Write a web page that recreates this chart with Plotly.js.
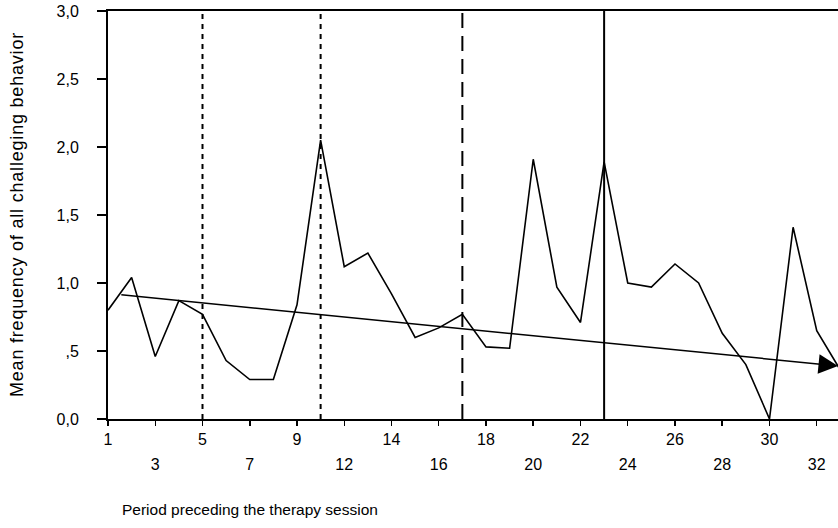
<!DOCTYPE html>
<html>
<head>
<meta charset="utf-8">
<script src="https://cdn.plot.ly/plotly-3.0.1.min.js"></script>
<style>
  html, body { margin: 0; padding: 0; background: #ffffff; }
  #chart { width: 838px; height: 528px; }
</style>
</head>
<body>
<div id="chart"></div>
<script>
// ---- data ----
const sessions = [1, 2, 3, 4, 5, 6, 7, 8, 9, 10, 12, 13, 14, 15, 16, 17, 18, 19, 20, 21, 22, 23, 24, 25, 26, 27, 28, 29, 30, 31, 32, 33];
const meanFrequency = [0.80, 1.04, 0.46, 0.87, 0.77, 0.43, 0.29, 0.29, 0.84, 2.05, 1.12, 1.22, 0.92, 0.60, 0.67, 0.77, 0.53, 0.52, 1.91, 0.97, 0.71, 1.89, 1.00, 0.97, 1.14, 1.00, 0.63, 0.40, 0.00, 1.41, 0.65, 0.36];
const phaseChangeSessions = [5, 10, 17, 23];
const phaseChangeDashes = ['5px,5px', '5px,5px', '15px,8px', 'solid'];
const trendPosition = [0.5, 30.9];   // in session-index units (start between sessions 1 and 2, end at right edge)
const trendValue = [0.914, 0.39];
const yTickValues = [0, 0.5, 1, 1.5, 2, 2.5, 3];
const yTickLabels = ['0,0', ',5', '1,0', '1,5', '2,0', '2,5', '3,0'];
const yTitle = 'Mean frequency of all challeging behavior';
const xTitle = 'Period preceding the therapy session';

// ---- build ----
const idx = sessions.map((s, i) => i);
const labelIdx = idx.filter(i => i % 2 === 0);
const botIdx = labelIdx.filter((i, k) => k % 2 === 1);
const FONT = 'Liberation Sans, Arial, sans-serif';

const traces = [
  {
    x: idx, y: meanFrequency, type: 'scatter', mode: 'lines',
    line: { color: '#000', width: 1.6 }, hoverinfo: 'skip', xaxis: 'x', yaxis: 'y'
  },
  {
    x: botIdx, y: botIdx.map(() => null), type: 'scatter', mode: 'lines',
    xaxis: 'x2', yaxis: 'y', hoverinfo: 'skip', showlegend: false
  }
];

const shapes = phaseChangeSessions.map((s, k) => ({
  type: 'line', xref: 'x', yref: 'paper',
  x0: sessions.indexOf(s), x1: sessions.indexOf(s), y0: 0, y1: 1,
  line: { color: '#000', width: 2, dash: phaseChangeDashes[k] }
}));

const xRange = [0, 30.9];

const layout = {
  width: 838, height: 528,
  margin: { l: 108, r: 0, t: 11, b: 109, pad: 0 },
  paper_bgcolor: '#fff', plot_bgcolor: '#fff',
  showlegend: false,
  font: { family: FONT, color: '#000', size: 16 },
  xaxis: {
    range: xRange, showgrid: false, zeroline: false,
    showline: true, linecolor: '#000', linewidth: 2, mirror: true,
    ticks: 'outside', ticklen: 5, tickwidth: 1.5, tickcolor: '#000',
    tickmode: 'array', tickvals: labelIdx,
    ticktext: labelIdx.map((i, k) => (k % 2 === 0 ? String(sessions[i]) : '')),
    tickfont: { family: FONT, size: 16, color: '#000' }
  },
  xaxis2: {
    overlaying: 'x', anchor: 'y', side: 'bottom', range: xRange,
    showgrid: false, zeroline: false, showline: false,
    ticks: 'outside', ticklen: 5, tickcolor: 'rgba(0,0,0,0)',
    tickmode: 'array', tickvals: botIdx,
    ticktext: botIdx.map(i => String(sessions[i])),
    ticklabelstandoff: 26,
    tickfont: { family: FONT, size: 16, color: '#000' }
  },
  yaxis: {
    range: [0, 3], showgrid: false, zeroline: false,
    showline: true, linecolor: '#000', linewidth: 2,
    ticks: 'outside', ticklen: 9, tickwidth: 2, tickcolor: '#000',
    tickmode: 'array', tickvals: yTickValues, ticktext: yTickLabels,
    ticklabelstandoff: 15,
    tickfont: { family: FONT, size: 16, color: '#000' }
  },
  shapes: shapes,
  annotations: [
    {
      x: trendPosition[1], y: trendValue[1], xref: 'x', yref: 'y',
      ax: trendPosition[0], ay: trendValue[0], axref: 'x', ayref: 'y',
      text: '', showarrow: true, arrowhead: 2, arrowsize: 2.6, arrowwidth: 1.5, arrowcolor: '#000'
    },
    {
      text: '<span style="letter-spacing:0.8px">' + yTitle + '</span>', textangle: -90, showarrow: false,
      xref: 'paper', yref: 'paper', x: (17 - 108) / 730, y: 0.5,
      xanchor: 'center', yanchor: 'middle',
      font: { family: FONT, size: 18, color: '#000' }
    },
    {
      text: xTitle, showarrow: false,
      xref: 'paper', yref: 'paper', x: (120 - 108) / 730, y: (419 - 509) / 408,
      xanchor: 'left', yanchor: 'middle',
      font: { family: FONT, size: 15.5, color: '#000' }
    }
  ]
};

Plotly.newPlot('chart', traces, layout, { staticPlot: true, displayModeBar: false });
</script>
</body>
</html>
